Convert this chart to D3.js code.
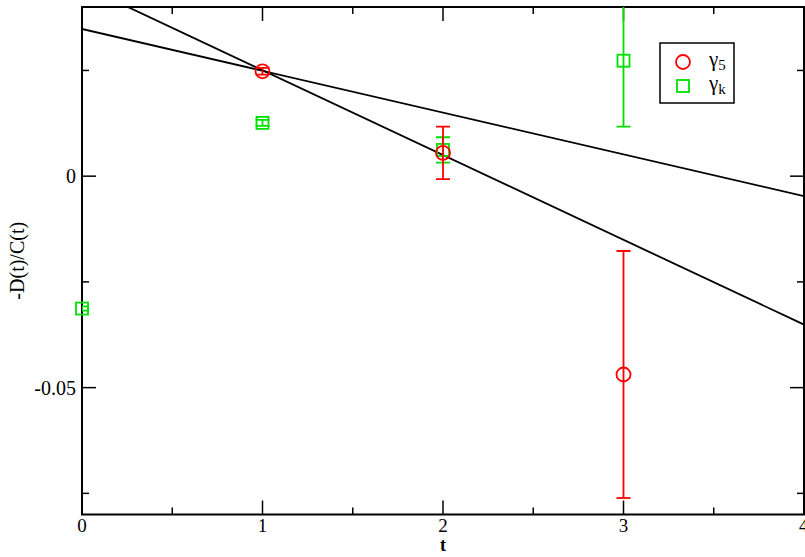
<!DOCTYPE html>
<html><head><meta charset="utf-8">
<script src="https://cdn.jsdelivr.net/npm/d3@7"></script>
<style>body{margin:0;background:#fff}svg{display:block}svg text{font-family:"Liberation Serif","DejaVu Serif",serif}</style>
</head><body>
<svg id="c" width="805" height="557"></svg>
<script>
const g5T = [1, 2, 3];
const g5V = [0.0248, 0.0055, -0.0469];
const g5E = [0.0008, 0.0062, 0.0292];
const gkT = [0, 1, 2, 3];
const gkV = [-0.0313, 0.0126, 0.0062, 0.0273];
const gkE = [0.0005, 0.0007, 0.0030, 0.0156];
const fitIntercepts = [0.0348, 0.0451];
const fitSlopes = [-0.00988, -0.02005];
const xTicks = [0, 1, 2, 3, 4];
const yTicks = [-0.05, 0];
const xMinor = [0.5, 1.5, 2.5, 3.5];
const yMinor = [-0.075, -0.025, 0.025];

const svg = d3.select("#c");
const L = 82, R = 804, T = 7, B = 514.5;
const x = d3.scaleLinear().domain([0, 4]).range([L, R]);
const y = d3.scaleLinear().domain([-0.08, 0.04]).range([B, T]);

svg.append("defs").append("clipPath").attr("id", "clip")
  .append("rect").attr("x", L).attr("y", T).attr("width", R - L).attr("height", B - T);

// frame
svg.append("rect").attr("x", L).attr("y", T).attr("width", R - L).attr("height", B - T)
  .attr("fill", "none").attr("stroke", "#000").attr("stroke-width", 2);

// ticks
const tk = svg.append("g").attr("stroke", "#000").attr("stroke-width", 1.5);
xTicks.forEach(v => {
  tk.append("line").attr("x1", x(v)).attr("x2", x(v)).attr("y1", B).attr("y2", B - 14);
  tk.append("line").attr("x1", x(v)).attr("x2", x(v)).attr("y1", T).attr("y2", T + 14);
});
xMinor.forEach(v => {
  tk.append("line").attr("x1", x(v)).attr("x2", x(v)).attr("y1", B).attr("y2", B - 7);
  tk.append("line").attr("x1", x(v)).attr("x2", x(v)).attr("y1", T).attr("y2", T + 7);
});
yTicks.forEach(v => {
  tk.append("line").attr("x1", L).attr("x2", L + 14).attr("y1", y(v)).attr("y2", y(v));
  tk.append("line").attr("x1", R).attr("x2", R - 14).attr("y1", y(v)).attr("y2", y(v));
});
yMinor.forEach(v => {
  tk.append("line").attr("x1", L).attr("x2", L + 7).attr("y1", y(v)).attr("y2", y(v));
  tk.append("line").attr("x1", R).attr("x2", R - 7).attr("y1", y(v)).attr("y2", y(v));
});

// tick labels
svg.append("g").selectAll("text").data(xTicks).join("text")
  .attr("x", d => x(d)).attr("y", 532).attr("text-anchor", d => d === 4 ? "start" : "middle")
  .attr("dx", d => d === 4 ? -5 : 0)
  .attr("font-size", 19).text(d => d3.format("d")(d));
svg.append("g").selectAll("text").data(yTicks).join("text")
  .attr("x", 76).attr("y", d => y(d) + 7).attr("text-anchor", "end")
  .attr("font-size", 20).text(d => d === 0 ? "0" : String(d));

// axis titles
svg.append("text").attr("x", x(2)).attr("y", 551).attr("text-anchor", "middle")
  .attr("font-size", 18).attr("font-weight", "bold").text("t");
svg.append("text").attr("transform", `translate(24,${(T + B) / 2}) rotate(-90)`)
  .attr("text-anchor", "middle").attr("font-size", 20).text("-D(t)/C(t)");

// fit lines
const lines = svg.append("g").attr("clip-path", "url(#clip)");
fitIntercepts.forEach((a, i) => {
  const pts = [0, 4].map(t => [x(t), y(a + fitSlopes[i] * t)]);
  lines.append("path").attr("d", d3.line()(pts)).attr("fill", "none")
    .attr("stroke", "#000").attr("stroke-width", 1.8);
});

function series(T_, V, E, col, marker) {
  const gg = svg.append("g").attr("stroke", col).attr("stroke-width", 1.8).attr("fill", "none");
  const eb = gg.append("g").attr("clip-path", "url(#clip)");
  T_.forEach((t, i) => {
    const cx = x(t), y1 = y(V[i] + E[i]), y2 = y(V[i] - E[i]);
    eb.append("line").attr("x1", cx).attr("x2", cx).attr("y1", y1).attr("y2", y2);
    eb.append("line").attr("x1", cx - 7).attr("x2", cx + 7).attr("y1", y1).attr("y2", y1);
    eb.append("line").attr("x1", cx - 7).attr("x2", cx + 7).attr("y1", y2).attr("y2", y2);
  });
  T_.forEach((t, i) => marker(gg, x(t), y(V[i])));
}
series(gkT, gkV, gkE, "#00e000", (g, cx, cy) =>
  g.append("rect").attr("x", cx - 6).attr("y", cy - 6).attr("width", 12).attr("height", 12));
series(g5T, g5V, g5E, "#ff0000", (g, cx, cy) =>
  g.append("circle").attr("cx", cx).attr("cy", cy).attr("r", 7));

// legend
const lg = svg.append("g");
lg.append("rect").attr("x", 660).attr("y", 43).attr("width", 74).attr("height", 60)
  .attr("fill", "#fff").attr("stroke", "#000").attr("stroke-width", 1.5);
lg.append("circle").attr("cx", 683).attr("cy", 62).attr("r", 7).attr("fill", "none")
  .attr("stroke", "#ff0000").attr("stroke-width", 1.8);
lg.append("rect").attr("x", 677).attr("y", 80).attr("width", 12).attr("height", 12).attr("fill", "none")
  .attr("stroke", "#00e000").attr("stroke-width", 1.8);
const t1 = lg.append("text").attr("x", 709).attr("y", 66).attr("font-size", 21);
t1.append("tspan").text("γ");
t1.append("tspan").attr("dy", 4).attr("font-size", 15).text("5");
const t2 = lg.append("text").attr("x", 709).attr("y", 90).attr("font-size", 21);
t2.append("tspan").text("γ");
t2.append("tspan").attr("dy", 4).attr("font-size", 15).text("k");
</script>
</body></html>
